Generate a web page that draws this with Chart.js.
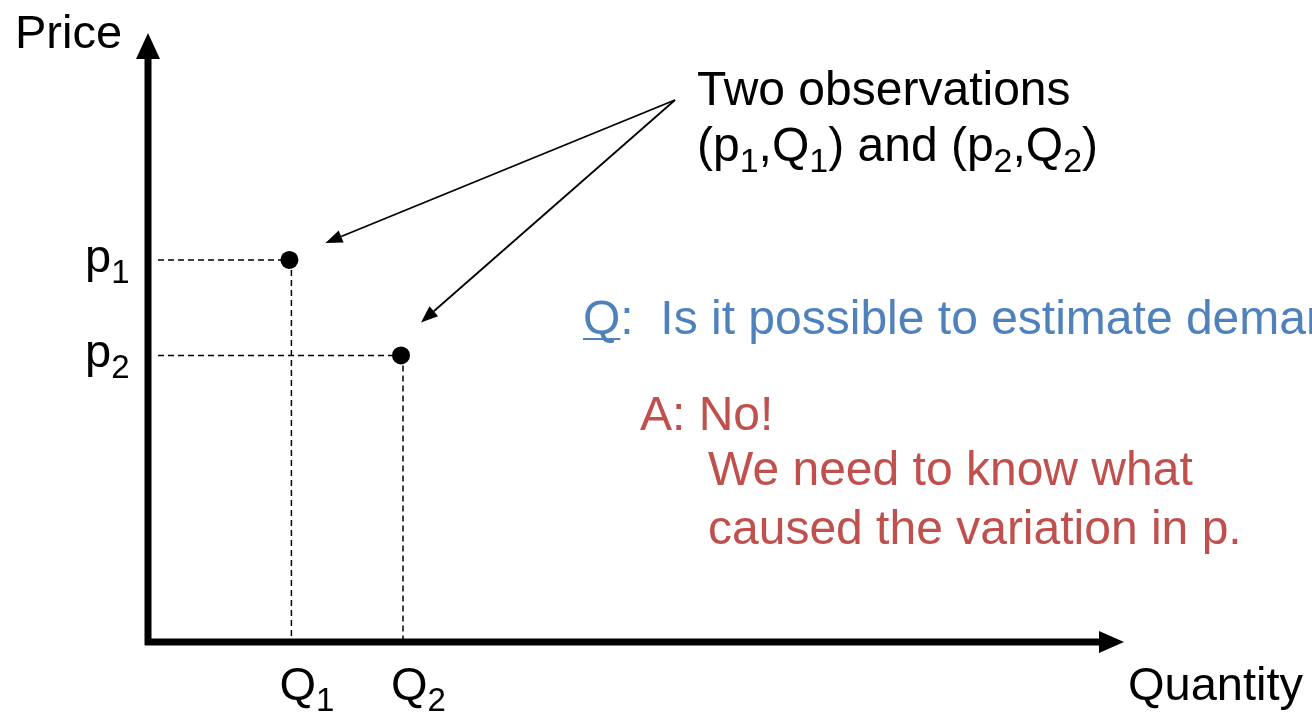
<!DOCTYPE html>
<html>
<head>
<meta charset="utf-8">
<script src="https://cdn.jsdelivr.net/npm/chart.js@4.4.0/dist/chart.umd.min.js"></script>
<style>
  body { margin: 0; background: #fff; }
  #myChart { display: block; }
</style>
</head>
<body>
<canvas id="myChart" width="1312" height="715"></canvas>
<script>
// two observed (Q, p) points
const quantities = [14.7, 26.3];
const prices = [64, 48];
const quantityTicks = [["Q", "1"], ["Q", "2"]];
const priceTicks = [["p", "1"], ["p", "2"]];

const FONT = '"Liberation Sans", Arial, sans-serif';
const BLUE = "#4F81BD";
const RED = "#C0504D";

// draw a line of text where some pieces are subscripts
const drawRich = (ctx, parts, x, y, size, color) => {
  ctx.fillStyle = color;
  ctx.textAlign = "left";
  ctx.textBaseline = "alphabetic";
  let cx = x;
  parts.forEach(([txt, sub]) => {
    ctx.font = (sub ? Math.round(size * 0.7) : size) + "px " + FONT;
    ctx.fillText(txt, cx, sub ? y + 11 : y);
    cx += ctx.measureText(txt).width;
  });
  return cx;
};

const arrowLine = (ctx, x1, y1, x2, y2, width, headLen, headHalf) => {
  const ang = Math.atan2(y2 - y1, x2 - x1);
  const bx = x2 - headLen * Math.cos(ang);
  const by = y2 - headLen * Math.sin(ang);
  ctx.lineWidth = width;
  ctx.beginPath();
  ctx.moveTo(x1, y1);
  ctx.lineTo(bx, by);
  ctx.stroke();
  ctx.beginPath();
  ctx.moveTo(x2, y2);
  ctx.lineTo(bx + headHalf * Math.sin(ang), by - headHalf * Math.cos(ang));
  ctx.lineTo(bx - headHalf * Math.sin(ang), by + headHalf * Math.cos(ang));
  ctx.closePath();
  ctx.fill();
};

const diagram = {
  id: "diagram",
  beforeDatasetsDraw(chart) {
    const { ctx, chartArea: a, scales: { x, y } } = chart;
    ctx.save();
    ctx.strokeStyle = "#000";
    ctx.fillStyle = "#000";

    // dashed guides from each point to the axes
    ctx.setLineDash([6, 4]);
    ctx.lineWidth = 1.5;
    quantities.forEach((q, i) => {
      const px = x.getPixelForValue(q);
      const py = y.getPixelForValue(prices[i]);
      ctx.beginPath();
      ctx.moveTo(a.left + 10, py);
      ctx.lineTo(px, py);
      ctx.moveTo(px + 2, py);
      ctx.lineTo(px + 2, a.bottom);
      ctx.stroke();
    });
    ctx.setLineDash([]);

    // axes with arrow heads
    arrowLine(ctx, a.left, a.bottom + 3, a.left, a.top - 12, 7, 26, 12);
    arrowLine(ctx, a.left - 3, a.bottom, a.right + 14, a.bottom, 7, 25, 11);
    ctx.restore();
  },
  afterDatasetsDraw(chart) {
    const { ctx, scales: { x, y } } = chart;
    ctx.save();
    ctx.fillStyle = "#000";
    ctx.strokeStyle = "#000";

    // axis titles
    ctx.font = "47px " + FONT;
    ctx.textAlign = "left";
    ctx.fillText("Price", 15, 48);
    ctx.fillText("Quantity", 1128, 700);

    // tick labels
    priceTicks.forEach((t, i) => {
      const py = y.getPixelForValue(prices[i]);
      drawRich(ctx, [[t[0], false], [t[1], true]], 85, py + 12, 47, "#000");
    });
    quantityTicks.forEach((t, i) => {
      const px = x.getPixelForValue(quantities[i]);
      drawRich(ctx, [[t[0], false], [t[1], true]], px - 10, 700, 47, "#000");
    });

    // annotation
    drawRich(ctx, [["Two observations", false]], 697, 105, 48, "#000");
    drawRich(ctx, [["(p", false], ["1", true], [",Q", false], ["1", true],
      [") and (p", false], ["2", true], [",Q", false], ["2", true], [")", false]],
      697, 161, 48, "#000");
    const offsets = [[36, -17], [20, -33]];
    quantities.forEach((q, i) => {
      const px = x.getPixelForValue(q);
      const py = y.getPixelForValue(prices[i]);
      arrowLine(ctx, 675, 100, px + offsets[i][0], py + offsets[i][1], 1.8, 17, 6.5);
    });

    // question and answer
    const qEnd = drawRich(ctx, [["Q", false]], 583, 334, 48, BLUE);
    ctx.strokeStyle = BLUE;
    ctx.lineWidth = 2;
    ctx.beginPath();
    ctx.moveTo(583, 339);
    ctx.lineTo(qEnd, 339);
    ctx.stroke();
    drawRich(ctx, [[":  Is it possible to estimate demand?", false]], qEnd, 334, 48, BLUE);

    drawRich(ctx, [["A: No!", false]], 640, 430, 48, RED);
    drawRich(ctx, [["We need to know what", false]], 708, 485, 48, RED);
    drawRich(ctx, [["caused the variation in p.", false]], 708, 544, 48, RED);
    ctx.restore();
  }
};

const ctx = document.getElementById("myChart").getContext("2d");
const myChart = new Chart(ctx, {
  type: "scatter",
  data: {
    datasets: [
      {
        label: "Observations",
        data: quantities.map((q, i) => ({ x: q, y: prices[i] })),
        backgroundColor: "#000",
        borderColor: "#000",
        borderWidth: 0,
        pointRadius: 9,
      },
    ],
  },
  options: {
    responsive: false,
    animation: false,
    layout: { padding: { left: 148, right: 202, top: 45, bottom: 73 } },
    scales: {
      x: { type: "linear", min: 0, max: 100, display: false },
      y: { type: "linear", min: 0, max: 100, display: false },
    },
    plugins: {
      legend: { display: false },
      tooltip: { enabled: false },
    },
  },
  plugins: [diagram],
});
</script>
</body>
</html>
